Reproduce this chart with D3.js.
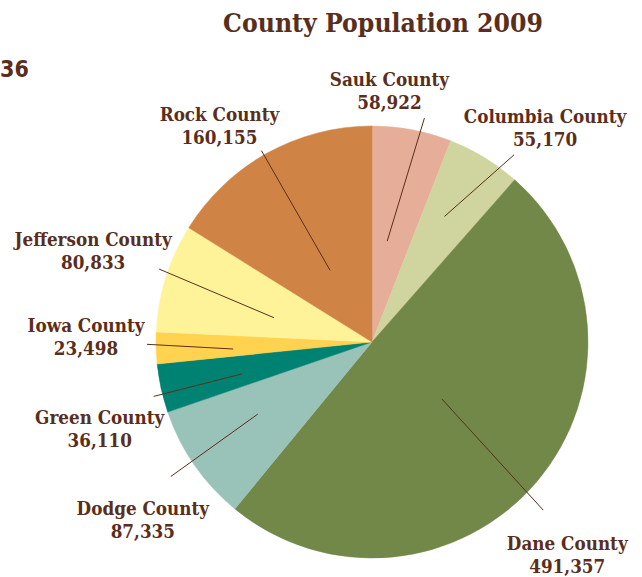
<!DOCTYPE html>
<html>
<head>
<meta charset="utf-8">
<script src="https://cdn.jsdelivr.net/npm/d3@7"></script>
<style>
  html, body { margin: 0; padding: 0; background: #ffffff; }
  svg { display: block; }
  .lbl { font-family: "DejaVu Serif Condensed", "DejaVu Serif", serif; font-weight: bold; fill: #5a2e1c; }
</style>
</head>
<body>
<svg id="chart" width="642" height="577"></svg>
<script>
// County names, clockwise from twelve o'clock
const counties = ["Sauk County", "Columbia County", "Dane County", "Dodge County",
                  "Green County", "Iowa County", "Jefferson County", "Rock County"];
// 2009 population estimates
const population = [58922, 55170, 491357, 87335, 36110, 23498, 80833, 160155];
// Slice fills
const sliceColors = ["#e6ae99", "#d0d49e", "#728848", "#99c3b8",
                     "#008272", "#ffd34f", "#fff399", "#cf8446"];

// Leader-line geometry per slice: radii and angle nudges (degrees) from the slice middle,
// plus where the two-line label sits relative to the outer end of the line.
const leaders = [
  { r0: 102, a0: -2.1, r1: 230, a1: 2.5,  tx: -35, ty: -32 },
  { r0: 145, a0: -1.35, r1: 235, a1: 5.85, tx: 31,  ty: -32 },
  { r0: 90,  a0: -1.2, r1: 240, a1: 4.1,  tx: 24,  ty: 40 },
  { r0: 135, a0: 2.5,  r1: 242, a1: 1.0,  tx: -28, ty: 39 },
  { r0: 134, a0: -1.4, r1: 225, a1: -1.6, tx: -54, ty: 28 },
  { r0: 139, a0: -1.3, r1: 225, a1: 1.0,  tx: -61, ty: -12 },
  { r0: 101, a0: -3.4, r1: 225, a1: 1.6,  tx: -66, ty: -23 },
  { r0: 83,  a0: -1.3, r1: 221, a1: -1.0, tx: -42, ty: -30 }
];

const svg = d3.select("#chart");
const cx = 372, cy = 342, radius = 216;
const fmt = d3.format(",");

const rows = counties.map((name, i) => ({ name, value: population[i], color: sliceColors[i], lead: leaders[i] }));

const pie = d3.pie().value(d => d.value).sort(null);
const arc = d3.arc().innerRadius(0).outerRadius(radius);
const arcs = pie(rows);

const g = svg.append("g").attr("transform", `translate(${cx},${cy})`);

g.selectAll("path.slice")
  .data(arcs)
  .join("path")
  .attr("class", "slice")
  .attr("d", arc)
  .attr("fill", d => d.data.color)
  .attr("stroke", d => d.data.color)
  .attr("stroke-width", 0.5);

// polar point, angle measured clockwise from twelve o'clock
const polar = (r, a) => [r * Math.sin(a), -r * Math.cos(a)];
const rad = deg => deg * Math.PI / 180;

const ends = arcs.map(d => {
  const mid = (d.startAngle + d.endAngle) / 2;
  const L = d.data.lead;
  return {
    d,
    p0: polar(L.r0, mid + rad(L.a0)),
    p1: polar(L.r1, mid + rad(L.a1))
  };
});

g.selectAll("line.leader")
  .data(ends)
  .join("line")
  .attr("class", "leader")
  .attr("x1", e => e.p0[0]).attr("y1", e => e.p0[1])
  .attr("x2", e => e.p1[0]).attr("y2", e => e.p1[1])
  .attr("stroke", "#5a2e1c")
  .attr("stroke-width", 1);

const labels = g.selectAll("text.lbl")
  .data(ends)
  .join("text")
  .attr("class", "lbl")
  .attr("text-anchor", "middle")
  .attr("font-size", 18.7)
  .attr("transform", e => `translate(${e.p1[0] + e.d.data.lead.tx},${e.p1[1] + e.d.data.lead.ty})`);

labels.append("tspan").attr("x", 0).attr("y", 0).text(e => e.d.data.name);
labels.append("tspan").attr("x", 0).attr("y", 23).text(e => fmt(e.d.data.value));

// Title
svg.append("text")
  .attr("class", "lbl")
  .attr("x", 383).attr("y", 32)
  .attr("text-anchor", "middle")
  .attr("font-size", 26.3)
  .text("County Population 2009");

// Page number
svg.append("text")
  .attr("x", 0).attr("y", 77)
  .attr("font-family", "'DejaVu Sans Condensed', 'DejaVu Sans', sans-serif")
  .attr("font-weight", "bold")
  .attr("font-size", 23)
  .attr("fill", "#5a2e1c")
  .text("36");
</script>
</body>
</html>
